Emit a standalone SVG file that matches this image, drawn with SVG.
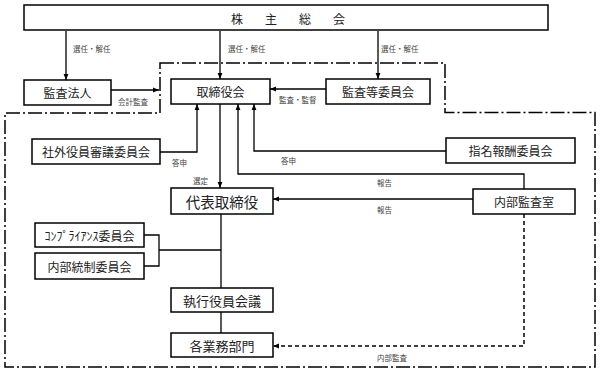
<svg xmlns="http://www.w3.org/2000/svg" width="600" height="375" viewBox="0 0 600 375">
<defs>
<marker id="ah" viewBox="0 0 10 10" refX="10" refY="5" markerWidth="6" markerHeight="6" orient="auto-start-reverse" markerUnits="userSpaceOnUse">
<path d="M0,1 L10,5 L0,9 Z" fill="#000"/>
</marker>
<style>
.box{fill:#fff;stroke:#000;stroke-width:1.5}
.t{font-family:"Noto Sans CJK JP","Noto Sans CJK SC",sans-serif;font-size:12px;fill:#222;text-anchor:middle;dominant-baseline:central}
.s{font-family:"Noto Sans CJK JP","Noto Sans CJK SC",sans-serif;font-size:7.5px;fill:#444;dominant-baseline:central}
.c{fill:none;stroke:#000;stroke-width:1.3}
.a{marker-end:url(#ah)}
.dd{fill:none;stroke:#000;stroke-width:1.5;stroke-dasharray:14 3 2 3}
.dash{fill:none;stroke:#000;stroke-width:1.5;stroke-dasharray:4 3}
</style>
</defs>
<rect width="600" height="375" fill="#fff"/>

<g id="boundary">
<path class="dd" d="M160,63 H445 V112.5 H595 V367 H5 V113 H160 Z"/>
</g>

<g id="connectors">
<line class="c a" x1="66" y1="31" x2="66" y2="80"/>
<line class="c a" x1="220" y1="31" x2="220" y2="79"/>
<line class="c a" x1="378" y1="31" x2="378" y2="79"/>
<line class="c a" x1="111" y1="90" x2="159" y2="90"/>
<line class="c a" x1="326" y1="89" x2="270" y2="89"/>
<polyline class="c a" points="160,152 197,152 197,104"/>
<polyline class="c a" points="446,151 254,151 254,104"/>
<polyline class="c a" points="524,189 524,174 238,174 238,104"/>
<line class="c a" x1="220" y1="104" x2="220" y2="188"/>
<line class="c a" x1="473" y1="199" x2="273" y2="199"/>
<line class="c" x1="221" y1="214" x2="221" y2="288"/>
<polyline class="c" points="144,235 159,235 159,266 144,266"/>
<line class="c" x1="159" y1="250" x2="221" y2="250"/>
<line class="c" x1="221" y1="312" x2="221" y2="333"/>
<polyline class="dash a" points="524,214 524,346 273,346"/>
<text class="s" x="73" y="48">選任・解任</text>
<text class="s" x="228" y="48">選任・解任</text>
<text class="s" x="381" y="48">選任・解任</text>
<text class="s" x="118" y="101">会計監査</text>
<text class="s" x="279" y="99">監査・監督</text>
<text class="s" x="172" y="162">答申</text>
<text class="s" x="281" y="160">答申</text>
<text class="s" x="193" y="180">選定</text>
<text class="s" x="377" y="182">報告</text>
<text class="s" x="377" y="209">報告</text>
<text class="s" x="377" y="357">内部監査</text>
</g>

<g id="shareholders">
<rect class="box" x="24" y="5" width="524" height="25"/>
<text class="t" x="237 271 305 339" y="18">株主総会</text>
</g>
<g id="auditor">
<rect class="box" x="24" y="80" width="87" height="25"/>
<text class="t" x="67.5" y="92.5">監査法人</text>
</g>
<g id="board">
<rect class="box" x="171" y="79" width="99" height="25"/>
<text class="t" x="220.5" y="91.5">取締役会</text>
</g>
<g id="audit-committee">
<rect class="box" x="326" y="79" width="104" height="25"/>
<text class="t" x="378" y="91.5">監査等委員会</text>
</g>
<g id="outside-committee">
<rect class="box" x="32" y="139" width="128" height="25"/>
<text class="t" x="96" y="151.5">社外役員審議委員会</text>
</g>
<g id="nomination-committee">
<rect class="box" x="446" y="138" width="129" height="25"/>
<text class="t" x="510.5" y="150.5">指名報酬委員会</text>
</g>
<g id="representative">
<rect class="box" x="171" y="188" width="102" height="26"/>
<text class="t" x="222" y="201" style="font-size:14.5px">代表取締役</text>
</g>
<g id="internal-audit">
<rect class="box" x="473" y="189" width="102" height="25"/>
<text class="t" x="524" y="201.5">内部監査室</text>
</g>
<g id="compliance">
<rect class="box" x="35" y="223" width="109" height="24"/>
<text class="t" x="89.5" y="235">ｺﾝﾌﾟﾗｲｱﾝｽ委員会</text>
</g>
<g id="internal-control">
<rect class="box" x="35" y="253" width="109" height="26"/>
<text class="t" x="89.5" y="266">内部統制委員会</text>
</g>
<g id="executive">
<rect class="box" x="171" y="288" width="102" height="24"/>
<text class="t" x="222" y="300" style="font-size:13px">執行役員会議</text>
</g>
<g id="business">
<rect class="box" x="171" y="333" width="102" height="24"/>
<text class="t" x="222" y="345" style="font-size:13px">各業務部門</text>
</g>
</svg>
